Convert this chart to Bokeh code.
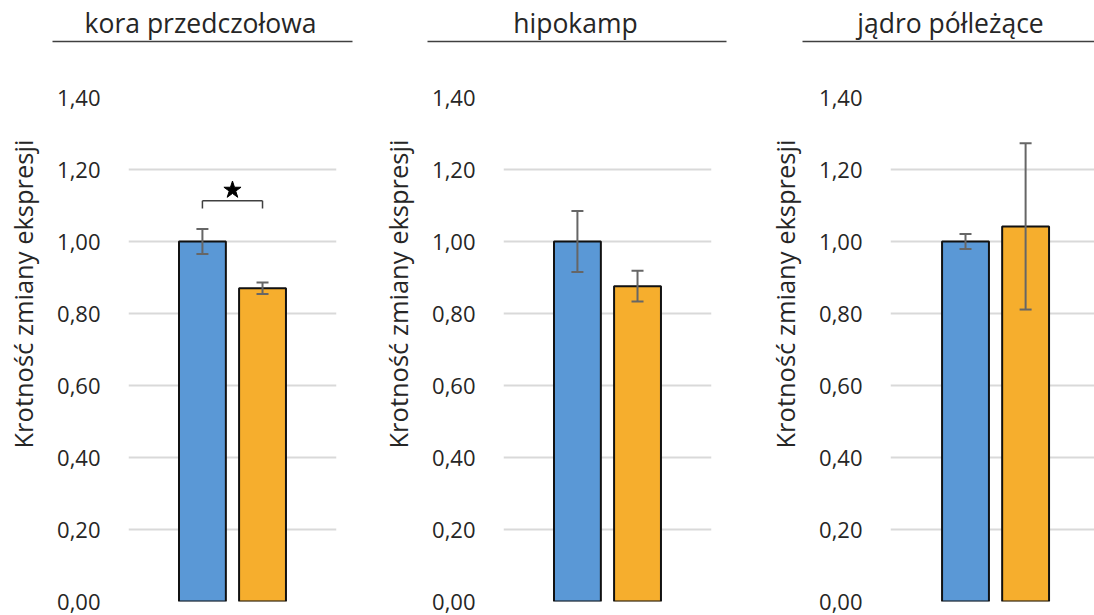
import math
from bokeh.plotting import figure
from bokeh.models import (Range1d, FixedTicker, Whisker, TeeHead, ColumnDataSource)
from bokeh.layouts import row, column
from bokeh.embed import file_html
from bokeh.resources import INLINE
from bokeh.core.properties import value

# ---------------- data ----------------
regions = ["kora przedczołowa", "hipokamp", "jądro półleżące"]
blue_mean = [1.00, 1.00, 1.00]
blue_err = [0.035, 0.085, 0.021]
orange_mean = [0.870, 0.876, 1.042]
orange_err = [0.016, 0.043, 0.231]
significant = [True, False, False]
sig_level = [1.113, None, None]
y_ticks = [0.0, 0.2, 0.4, 0.6, 0.8, 1.0, 1.2, 1.4]
y_tick_labels = ["0,00", "0,20", "0,40", "0,60", "0,80", "1,00", "1,20", "1,40"]
y_title = "Krotność zmiany ekspresji"

# ---------------- style / layout ----------------
FONT = "Open Sans"
TXT = "#262626"
BLUE = "#5a98d6"
ORANGE = "#f6ae2d"
TOTAL_W = 1094
panel_w = [375, 375, 344]
label_w = [45, 45, 57]
label_cx = [22.5, 22.5, 34.5]
frame_left = [128, 128, 140]
frame_w = [208, 208, 204]
x_start = [-0.73, -0.73, -0.748]
PX_PER_UNIT = 60.1
TITLE_H = 50
CHART_H = 565
FRAME_TOP = 47
FRAME_BOTTOM = 14
YLABEL_CENTER = 0.854
title_center = [200, 575, 950]
rule_span = [(52, 352), (427, 726), (802, 1100)]

# title strip spanning the full width
t = figure(width=TOTAL_W, height=TITLE_H, x_range=Range1d(0, TOTAL_W), y_range=Range1d(TITLE_H, 0),
           toolbar_location=None, output_backend="svg",
           min_border_left=0, min_border_right=0, min_border_top=0, min_border_bottom=0)
t.axis.visible = False
t.grid.visible = False
t.outline_line_color = None
t.text(x=title_center, y=[22] * 3, text=regions, text_align="center", text_baseline="alphabetic",
       text_font=value(FONT), text_font_size="26.5px", text_color=TXT)
t.segment(x0=[a for a, b in rule_span], y0=[41] * 3, x1=[b for a, b in rule_span], y1=[41] * 3,
          line_color="#404040", line_width=1.5)

panels = []
for i, name in enumerate(regions):
    # narrow strip holding the rotated y-axis title
    lw = label_w[i]
    lf = figure(width=lw, height=CHART_H, x_range=Range1d(0, lw), y_range=Range1d(0, 1.4),
                toolbar_location=None, output_backend="svg",
                min_border_left=0, min_border_right=0,
                min_border_top=FRAME_TOP, min_border_bottom=FRAME_BOTTOM)
    lf.axis.visible = False
    lf.grid.visible = False
    lf.outline_line_color = None
    lf.text(x=[label_cx[i]], y=[YLABEL_CENTER], text=[y_title], angle=math.pi / 2,
            text_align="center", text_baseline="middle",
            text_font=value(FONT), text_font_size="25.5px", text_color=TXT)

    W = panel_w[i] - lw
    xs = frame_w[i] / PX_PER_UNIT
    left_border = frame_left[i] - lw
    p = figure(width=W, height=CHART_H,
               x_range=Range1d(x_start[i], x_start[i] + xs), y_range=Range1d(0, 1.4),
               toolbar_location=None, output_backend="svg",
               min_border_left=left_border, min_border_right=W - left_border - frame_w[i],
               min_border_top=FRAME_TOP, min_border_bottom=FRAME_BOTTOM)
    p.outline_line_color = None
    p.xaxis.visible = False
    p.xgrid.visible = False
    p.ygrid.ticker = FixedTicker(ticks=y_ticks)
    p.ygrid.grid_line_color = "#d9d9d9"
    p.ygrid.grid_line_width = 2
    p.yaxis.ticker = FixedTicker(ticks=y_ticks)
    p.yaxis.major_label_overrides = {t_: l_ for t_, l_ in zip(y_ticks, y_tick_labels)}
    p.yaxis.axis_line_color = None
    p.yaxis.major_tick_line_color = None
    p.yaxis.minor_tick_line_color = None
    p.yaxis.major_tick_out = 0
    p.yaxis.major_tick_in = 0
    p.yaxis.major_label_standoff = 28
    p.yaxis.major_label_text_font = FONT
    p.yaxis.major_label_text_font_size = "22px"
    p.yaxis.major_label_text_color = TXT

    src = ColumnDataSource(dict(
        x=[0.5, 1.5],
        top=[blue_mean[i], orange_mean[i]],
        upper=[blue_mean[i] + blue_err[i], orange_mean[i] + orange_err[i]],
        lower=[blue_mean[i] - blue_err[i], orange_mean[i] - orange_err[i]],
        color=[BLUE, ORANGE],
    ))
    p.vbar(x="x", top="top", bottom=0, width=0.78, source=src, fill_color="color",
           line_color="#111111", line_width=2)
    p.add_layout(Whisker(base="x", upper="upper", lower="lower", source=src,
                         line_color="#666666", line_width=2, level="overlay",
                         upper_head=TeeHead(size=12, line_color="#666666", line_width=2),
                         lower_head=TeeHead(size=12, line_color="#666666", line_width=2)))

    if significant[i]:
        s = sig_level[i]
        leg = 0.021
        p.segment(x0=[0.5, 0.5, 1.5], y0=[s, s, s], x1=[1.5, 0.5, 1.5], y1=[s, s - leg, s - leg],
                  line_color="#404040", line_width=1.5)
        p.scatter(x=[1.0], y=[s + 0.03], marker="star", size=18, fill_color="black",
                  line_color="black")

    panels.append(row(lf, p))

layout = column(t, row(*panels))
open("out.html", "w").write(file_html(layout, INLINE))
